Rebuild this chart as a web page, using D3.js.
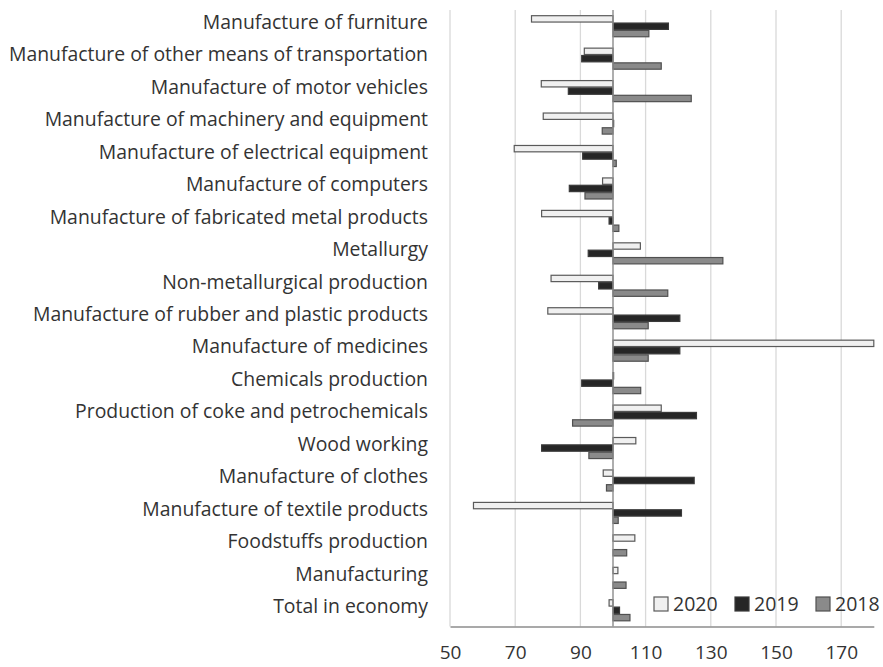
<!DOCTYPE html>
<html>
<head>
<meta charset="utf-8">
<script src="https://cdn.jsdelivr.net/npm/d3@7"></script>
<style>
  html, body { margin: 0; padding: 0; background: #fff; }
  svg { display: block; }
  text { font-family: "Open Sans", sans-serif; fill: #333; }
</style>
</head>
<body>
<svg id="chart" width="883" height="667"></svg>
<script>
// Industry categories, top to bottom
const categories = [
  "Manufacture of furniture",
  "Manufacture of other means of transportation",
  "Manufacture of motor vehicles",
  "Manufacture of machinery and equipment",
  "Manufacture of electrical equipment",
  "Manufacture of computers",
  "Manufacture of fabricated metal products",
  "Metallurgy",
  "Non-metallurgical production",
  "Manufacture of rubber and plastic products",
  "Manufacture of medicines",
  "Chemicals production",
  "Production of coke and petrochemicals",
  "Wood working",
  "Manufacture of clothes",
  "Manufacture of textile products",
  "Foodstuffs production",
  "Manufacturing",
  "Total in economy"
];

// Index values (previous year = 100), one entry per category
const values2020 = [75, 91.2, 78, 78.6, 69.7, 96.8, 78.1, 108.4, 81, 80, 180, 100.2, 114.8, 107, 97, 57.2, 106.7, 101.5, 98.8];
const values2019 = [117, 90.4, 86.3, 100.2, 90.7, 86.6, 98.8, 92.4, 95.6, 120.5, 120.5, 90.4, 125.6, 78.1, 124.9, 121, 100, 100, 102];
const values2018 = [111, 114.8, 124, 96.7, 101, 91.4, 101.8, 133.7, 116.8, 110.8, 110.8, 108.5, 87.6, 92.6, 98, 101.6, 104.2, 104, 105.2];

const seriesNames = ["2020", "2019", "2018"];
const tickValues = [50, 70, 90, 110, 130, 150, 170];

const seriesStyle = {
  "2020": { fill: "#f0f0f0", stroke: "#5a5a5a" },
  "2019": { fill: "#262626", stroke: "#3a3a3a" },
  "2018": { fill: "#8a8a8a", stroke: "#505050" }
};

const seriesValues = { "2020": values2020, "2019": values2019, "2018": values2018 };

const svg = d3.select("#chart");

const plot = { left: 450, right: 873.8, top: 10, bottom: 626.5 };
const baseValue = 100;

const x = d3.scaleLinear().domain([50, 180]).range([plot.left, plot.right]);
const y = d3.scaleBand().domain(categories).range([plot.top, plot.bottom]).padding(0);
const yInner = d3.scaleBand().domain(seriesNames)
  .range([y.bandwidth() * 0.16, y.bandwidth() * 0.84]).padding(0);

// vertical gridlines
svg.append("g").selectAll("line")
  .data(tickValues)
  .join("line")
  .attr("x1", d => x(d)).attr("x2", d => x(d))
  .attr("y1", plot.top).attr("y2", plot.bottom)
  .attr("stroke", "#d9d9d9").attr("stroke-width", 1.3);

// bars
const rows = categories.flatMap((c, i) =>
  seriesNames.map(s => ({ category: c, series: s, value: seriesValues[s][i] })));

svg.append("g").selectAll("rect")
  .data(rows)
  .join("rect")
  .attr("x", d => Math.min(x(baseValue), x(d.value)))
  .attr("y", d => y(d.category) + yInner(d.series) + 0.5)
  .attr("width", d => Math.abs(x(d.value) - x(baseValue)))
  .attr("height", yInner.bandwidth() - 1)
  .attr("fill", d => seriesStyle[d.series].fill)
  .attr("stroke", d => seriesStyle[d.series].stroke)
  .attr("stroke-width", 1.2);

// category axis crossing at 100
svg.append("line")
  .attr("x1", x(baseValue)).attr("x2", x(baseValue))
  .attr("y1", plot.top).attr("y2", plot.bottom)
  .attr("stroke", "#8c8c8c").attr("stroke-width", 1.4);

// bottom value axis
const xAxis = svg.append("g")
  .attr("transform", `translate(0,${plot.bottom})`)
  .call(d3.axisBottom(x).tickValues(tickValues).tickSize(0).tickPadding(19).tickFormat(d3.format("d")));
xAxis.select(".domain").attr("stroke", "#8c8c8c").attr("stroke-width", 1.4);
xAxis.selectAll("text")
  .style("font-family", '"Open Sans", sans-serif')
  .style("font-size", "19px")
  .attr("fill", "#333");

// category labels
svg.append("g").selectAll("text")
  .data(categories)
  .join("text")
  .attr("x", 428)
  .attr("y", d => y(d) + y.bandwidth() / 2 - 4)
  .attr("dy", "0.35em")
  .attr("text-anchor", "end")
  .style("font-size", "19.4px")
  .text(d => d);

// legend
const legend = svg.append("g").attr("transform", "translate(654,604)");
const legendItem = legend.selectAll("g")
  .data(seriesNames)
  .join("g")
  .attr("transform", (d, i) => `translate(${i * 81},0)`);
legendItem.append("rect")
  .attr("x", 0).attr("y", -7)
  .attr("width", 14).attr("height", 14)
  .attr("fill", d => seriesStyle[d].fill)
  .attr("stroke", d => seriesStyle[d].stroke)
  .attr("stroke-width", 1.2);
legendItem.append("text")
  .attr("x", 19).attr("y", 0).attr("dy", "0.35em")
  .style("font-size", "19.5px")
  .text(d => d);
</script>
</body>
</html>
